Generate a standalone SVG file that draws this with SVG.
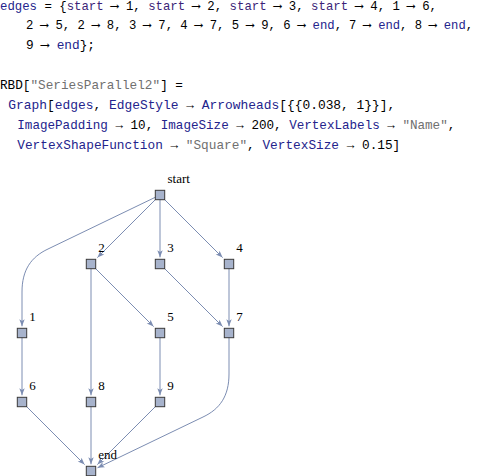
<svg xmlns="http://www.w3.org/2000/svg" width="477" height="476" viewBox="0 0 477 476">
<style>
.code{font-family:"Liberation Mono","Courier New",monospace;font-size:12.7px;fill:#000}
.v{fill:#23238c}
.p{fill:#3c1f78}
.q{fill:#707070}
.lbl{font-family:"Liberation Serif","Times New Roman",serif;font-size:13px;fill:#000}
.node rect{fill:#a7b3cc;stroke:#3a3a3a;stroke-width:1}
.edge{fill:none;stroke:#7c8db2;stroke-width:1;marker-end:url(#ah)}
</style>
<defs>
<marker id="ah" markerUnits="userSpaceOnUse" markerWidth="10" markerHeight="8" viewBox="-8 -4 9 8" refX="0" refY="0" orient="auto" overflow="visible">
<path d="M0,0 L-7,-2.7 L-5.4,0 L-7,2.7 Z" fill="#7c8db2"/>
</marker>
</defs>
<rect width="477" height="476" fill="#fff"/>
<g id="code">
<text class="code" x="0" y="9.5" textLength="437" lengthAdjust="spacingAndGlyphs"><tspan class="v">edges</tspan> = {<tspan class="p">start</tspan> ⟶ 1, <tspan class="p">start</tspan> ⟶ 2, <tspan class="p">start</tspan> ⟶ 3, <tspan class="p">start</tspan> ⟶ 4, 1 ⟶ 6,</text>
<text class="code" x="26" y="29.3" textLength="316" lengthAdjust="spacingAndGlyphs">2 ⟶ 5, 2 ⟶ 8, 3 ⟶ 7, 4 ⟶ 7, 5 ⟶ 9, 6 ⟶ <tspan class="v">end</tspan>,</text>
<text class="code" x="349" y="29.3" textLength="124" lengthAdjust="spacingAndGlyphs">7 ⟶ <tspan class="v">end</tspan>, 8 ⟶ <tspan class="v">end</tspan>,</text>
<text class="code" x="26" y="49.3" textLength="69" lengthAdjust="spacingAndGlyphs">9 ⟶ <tspan class="v">end</tspan>};</text>
<text class="code" x="0" y="88.5" textLength="183" lengthAdjust="spacingAndGlyphs">RBD[<tspan class="q">"SeriesParallel2"</tspan>] =</text>
<text class="code" x="8.3" y="108.5" textLength="387" lengthAdjust="spacingAndGlyphs"><tspan class="v">Graph</tspan>[<tspan class="v">edges</tspan>, <tspan class="v">EdgeStyle</tspan> → <tspan class="v">Arrowheads</tspan>[{{0.038, 1}}],</text>
<text class="code" x="17.3" y="128.5" textLength="438" lengthAdjust="spacingAndGlyphs"><tspan class="v">ImagePadding</tspan> → 10, <tspan class="v">ImageSize</tspan> → 200, <tspan class="v">VertexLabels</tspan> → <tspan class="q">"Name"</tspan>,</text>
<text class="code" x="17.3" y="148.5" textLength="383" lengthAdjust="spacingAndGlyphs"><tspan class="v">VertexShapeFunction</tspan> → <tspan class="q">"Square"</tspan>, <tspan class="v">VertexSize</tspan> → 0.15]</text>
</g>
<g id="edges">
<path class="edge" d="M160,195 L48,249 C31,257 22,270 22,292 L22,326.3"/>
<path class="edge" d="M160,195 L97.4,257.6"/>
<path class="edge" d="M160,195 L160,257.3"/>
<path class="edge" d="M160,195 L222.6,257.6"/>
<path class="edge" d="M22,333 L22,395.3"/>
<path class="edge" d="M91,264 L153.6,326.6"/>
<path class="edge" d="M91,264 L91,395.3"/>
<path class="edge" d="M160,264 L222.6,326.6"/>
<path class="edge" d="M229,264 L229,326.3"/>
<path class="edge" d="M160,333 L160,395.3"/>
<path class="edge" d="M22,402 L84.6,464.6"/>
<path class="edge" d="M229,333 L229,374 C229,396 220,409 203,417 L97.5,467.8"/>
<path class="edge" d="M91,402 L91,464.3"/>
<path class="edge" d="M160,402 L97.4,464.6"/>
</g>
<g id="node-start" class="node"><rect x="155.3" y="190.3" width="9.4" height="9.4"/><text class="lbl" x="167.5" y="183">start</text></g>
<g id="node-1" class="node"><rect x="17.3" y="328.3" width="9.4" height="9.4"/><text class="lbl" x="29.3" y="321">1</text></g>
<g id="node-2" class="node"><rect x="86.3" y="259.3" width="9.4" height="9.4"/><text class="lbl" x="98.3" y="252">2</text></g>
<g id="node-3" class="node"><rect x="155.3" y="259.3" width="9.4" height="9.4"/><text class="lbl" x="167.3" y="252">3</text></g>
<g id="node-4" class="node"><rect x="224.3" y="259.3" width="9.4" height="9.4"/><text class="lbl" x="236.3" y="252">4</text></g>
<g id="node-5" class="node"><rect x="155.3" y="328.3" width="9.4" height="9.4"/><text class="lbl" x="167.3" y="321">5</text></g>
<g id="node-7" class="node"><rect x="224.3" y="328.3" width="9.4" height="9.4"/><text class="lbl" x="236.3" y="321">7</text></g>
<g id="node-6" class="node"><rect x="17.3" y="397.3" width="9.4" height="9.4"/><text class="lbl" x="29.3" y="390">6</text></g>
<g id="node-8" class="node"><rect x="86.3" y="397.3" width="9.4" height="9.4"/><text class="lbl" x="98.3" y="390">8</text></g>
<g id="node-9" class="node"><rect x="155.3" y="397.3" width="9.4" height="9.4"/><text class="lbl" x="167.3" y="390">9</text></g>
<g id="node-end" class="node"><rect x="86.3" y="466.3" width="9.4" height="9.4"/><text class="lbl" x="98.3" y="458.5">end</text></g>
</svg>
